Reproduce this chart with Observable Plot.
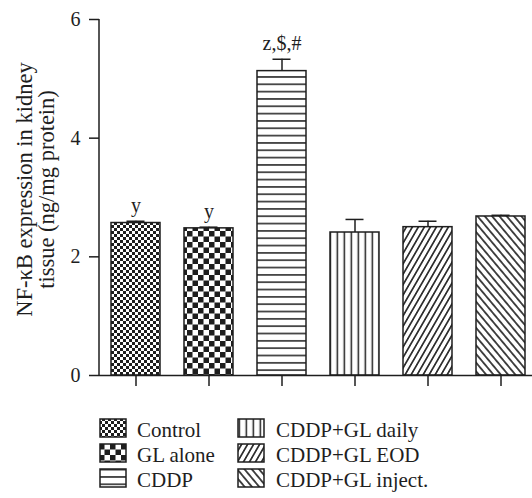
<!DOCTYPE html>
<html><head><meta charset="utf-8">
<script src="https://cdn.jsdelivr.net/npm/d3@7"></script>
<script src="https://cdn.jsdelivr.net/npm/@observablehq/plot@0.6"></script>
<style>
body{margin:0;background:#fff;}
#wrap{position:relative;width:532px;height:498px;font-family:"Liberation Serif",serif;}
#wrap svg{display:block;}
</style></head><body><div id="wrap"></div>
<script>
// ---- data ----
const groups = ["Control", "GL alone", "CDDP", "CDDP+GL daily", "CDDP+GL EOD", "CDDP+GL inject."];
const means = [2.57, 2.48, 5.13, 2.41, 2.50, 2.68];
const upper = [2.60, 2.50, 5.33, 2.63, 2.60, 2.70];
const sigLabels = ["y", "y", "z,$,#", "", "", ""];
const yTicks = [0, 2, 4, 6];
const yTitle = "NF-\u03baB expression in kidney\ntissue (ng/mg protein)";
const legendCols = [["Control", "GL alone", "CDDP"], ["CDDP+GL daily", "CDDP+GL EOD", "CDDP+GL inject."]];

const rows = groups.map((g, i) => ({group: g, mean: means[i], upper: upper[i], label: sigLabels[i]}));

// ---- styles ----
const ink = "#1e1e1e";
const patternOf = {
  "Control": "pCtrl", "GL alone": "pGL", "CDDP": "pH",
  "CDDP+GL daily": "pV", "CDDP+GL EOD": "pFwd", "CDDP+GL inject.": "pBack"
};

const wrap = d3.select("#wrap");
const defsSvg = wrap.append("svg").attr("width", 0).attr("height", 0)
  .style("position", "absolute").style("left", 0).style("top", 0);
const defs = defsSvg.append("defs");
function checker(id, s) {
  const p = defs.append("pattern").attr("id", id).attr("patternUnits", "userSpaceOnUse")
    .attr("width", 2 * s).attr("height", 2 * s);
  p.append("rect").attr("width", 2 * s).attr("height", 2 * s).attr("fill", "#fff");
  p.append("rect").attr("width", s).attr("height", s).attr("fill", ink);
  p.append("rect").attr("x", s).attr("y", s).attr("width", s).attr("height", s).attr("fill", ink);
}
function stripe(id, sp, angle, sw, off) {
  const p = defs.append("pattern").attr("id", id).attr("patternUnits", "userSpaceOnUse")
    .attr("width", sp).attr("height", sp)
    .attr("patternTransform", `translate(${off},0) rotate(${angle})`);
  p.append("rect").attr("width", sp).attr("height", sp).attr("fill", "#fff");
  p.append("line").attr("x1", sp / 2).attr("x2", sp / 2).attr("y1", -1).attr("y2", sp + 1)
    .attr("stroke", ink).attr("stroke-width", sw);
}
checker("pCtrl", 3);
checker("pGL", 5.5);
stripe("pH", 7.33, 90, 1.5, 0);
stripe("pV", 7, 0, 1.5, 4.8);
stripe("pFwd", 5.2, 30, 1.6, 0);
stripe("pBack", 5.6, -40, 1.6, 0);

const yAxisLine = (index, scales, values, dims) =>
  d3.create("svg:line")
    .attr("x1", dims.marginLeft).attr("x2", dims.marginLeft)
    .attr("y1", scales.y(0)).attr("y2", scales.y(6))
    .attr("stroke", ink).attr("stroke-width", 1.5).node();

const chart = Plot.plot({
  width: 532, height: 400,
  marginLeft: 99, marginRight: 0, marginTop: 19, marginBottom: 25,
  style: {fontFamily: "Liberation Serif, serif", fontSize: "20px", color: ink, background: "transparent", overflow: "visible"},
  x: {domain: groups, paddingInner: 0.33, paddingOuter: 0.12, align: 0.65, axis: null},
  y: {domain: [0, 6], axis: null},
  color: {type: "identity"},
  marks: [
    Plot.barY(rows, {x: "group", y: "mean", fill: d => `url(#${patternOf[d.group]})`, stroke: ink, strokeWidth: 1.5}),
    Plot.ruleX(rows, {x: "group", y1: "mean", y2: "upper", stroke: ink, strokeWidth: 1.5}),
    Plot.tickY(rows, {x: "group", y: "upper", inset: 15.5, stroke: ink, strokeWidth: 1.5}),
    Plot.text(rows, {x: "group", y: "upper", text: "label", lineAnchor: "bottom", dy: -9, fontSize: 20, fill: ink}),
    Plot.ruleY([0], {stroke: ink, strokeWidth: 1.5}),
    yAxisLine,
    Plot.axisY(yTicks, {tickSize: 10, tickPadding: 9, label: null, strokeWidth: 1.5, fontSize: 20, tickFormat: d => String(d)}),
    Plot.axisX({tickSize: 11, tickFormat: () => "", label: null, strokeWidth: 1.5}),
    Plot.text([yTitle], {frameAnchor: "left", textAnchor: "middle", lineAnchor: "middle", rotate: -90, dx: -64, dy: -8, lineHeight: 0.98, fontSize: 22.5, fill: ink})
  ]
});
wrap.node().appendChild(chart);

// ---- legend ----
const leg = wrap.append("svg").attr("width", 532).attr("height", 98);
const baselines = [37, 62, 87];
const colSwatchX = [100, 238];
const colTextX = [137, 276];
legendCols.forEach((col, c) => {
  col.forEach((name, r) => {
    leg.append("rect").attr("x", colSwatchX[c]).attr("y", baselines[r] - 18)
      .attr("width", 26).attr("height", 18)
      .attr("fill", `url(#${patternOf[name]})`).attr("stroke", ink).attr("stroke-width", 1.5);
    leg.append("text").attr("x", colTextX[c]).attr("y", baselines[r])
      .attr("font-family", "Liberation Serif, serif").attr("font-size", 21).attr("fill", ink)
      .text(name);
  });
});
</script></body></html>
